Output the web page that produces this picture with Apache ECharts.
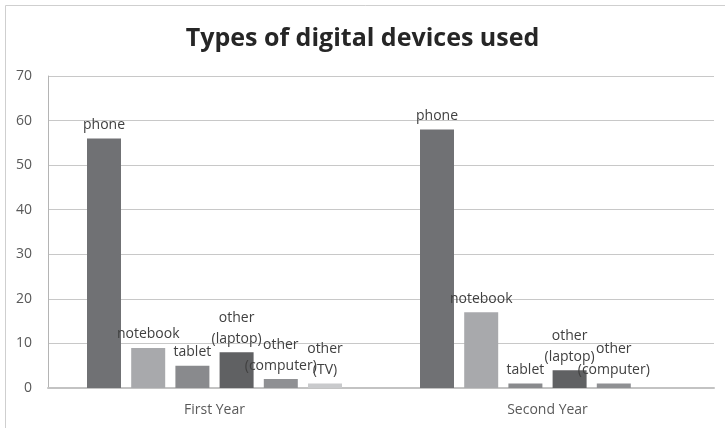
<!DOCTYPE html>
<html>
<head>
<meta charset="utf-8">
<script src="https://cdn.jsdelivr.net/npm/echarts@6/dist/echarts.min.js"></script>
<style>
  html, body { margin: 0; padding: 0; background: #fff; }
  #chart { width: 725px; height: 428px; }
</style>
</head>
<body>
<div id="chart"></div>
<script>
// Survey groups on the x axis
const categories = ['First Year', 'Second Year'];

// Device types, one bar series each
const deviceNames = ['phone', 'notebook', 'tablet', 'other (laptop)', 'other (computer)', 'other (TV)'];
const deviceLabels = ['phone', 'notebook', 'tablet', 'other\n(laptop)', 'other\n(computer)', 'other\n(TV)'];

// Counts per device: [First Year, Second Year]
const phone    = [56, 58];
const notebook = [9, 17];
const tablet   = [5, 1];
const laptop   = [8, 4];
const computer = [2, 1];
const tv       = [1, null];

const yTicks = [0, 10, 20, 30, 40, 50, 60, 70];

const seriesValues = [phone, notebook, tablet, laptop, computer, tv];
const seriesColors = ['#707174', '#a8a9ac', '#898a8d', '#606163', '#8f9093', '#c9cacc'];

const FONT = '"Open Sans", "Liberation Sans", sans-serif';

const chart = echarts.init(document.getElementById('chart'), null, { renderer: 'canvas' });

chart.setOption({
  backgroundColor: '#ffffff',
  animation: false,
  title: {
    text: 'Types of digital devices used',
    left: 'center',
    top: 21,
    textStyle: { fontFamily: FONT, fontWeight: 'bold', fontSize: 25, color: '#262626' }
  },
  graphic: [{
    type: 'rect',
    shape: { x: 5.5, y: 5.5, width: 900, height: 600 },
    style: { fill: 'none', stroke: '#cfcfcf', lineWidth: 1 },
    silent: true,
    z: -1
  }],
  grid: { left: 48, right: 11, top: 76, bottom: 40 },
  xAxis: {
    type: 'category',
    data: categories,
    axisLine: { show: true, lineStyle: { color: '#c3c3c3', width: 2 } },
    axisTick: { show: false },
    axisLabel: { fontFamily: FONT, fontSize: 14, color: '#595959', margin: 15 }
  },
  yAxis: {
    type: 'value',
    min: yTicks[0],
    max: yTicks[yTicks.length - 1],
    interval: 10,
    axisLine: { show: true, lineStyle: { color: '#b4b4b4', width: 1 } },
    axisTick: { show: false },
    axisLabel: { fontFamily: FONT, fontSize: 14, color: '#595959', margin: 16 },
    splitLine: { show: true, lineStyle: { color: '#c8c8c8', width: 1 } }
  },
  series: seriesValues.map((vals, i) => ({
    name: deviceNames[i],
    type: 'bar',
    data: vals,
    barWidth: 34,
    barGap: '30%',
    itemStyle: { color: seriesColors[i] },
    label: {
      show: true,
      position: 'top',
      distance: 3,
      formatter: () => deviceLabels[i],
      fontFamily: FONT,
      fontSize: 14,
      lineHeight: 21,
      color: '#404040'
    }
  }))
});
</script>
</body>
</html>
